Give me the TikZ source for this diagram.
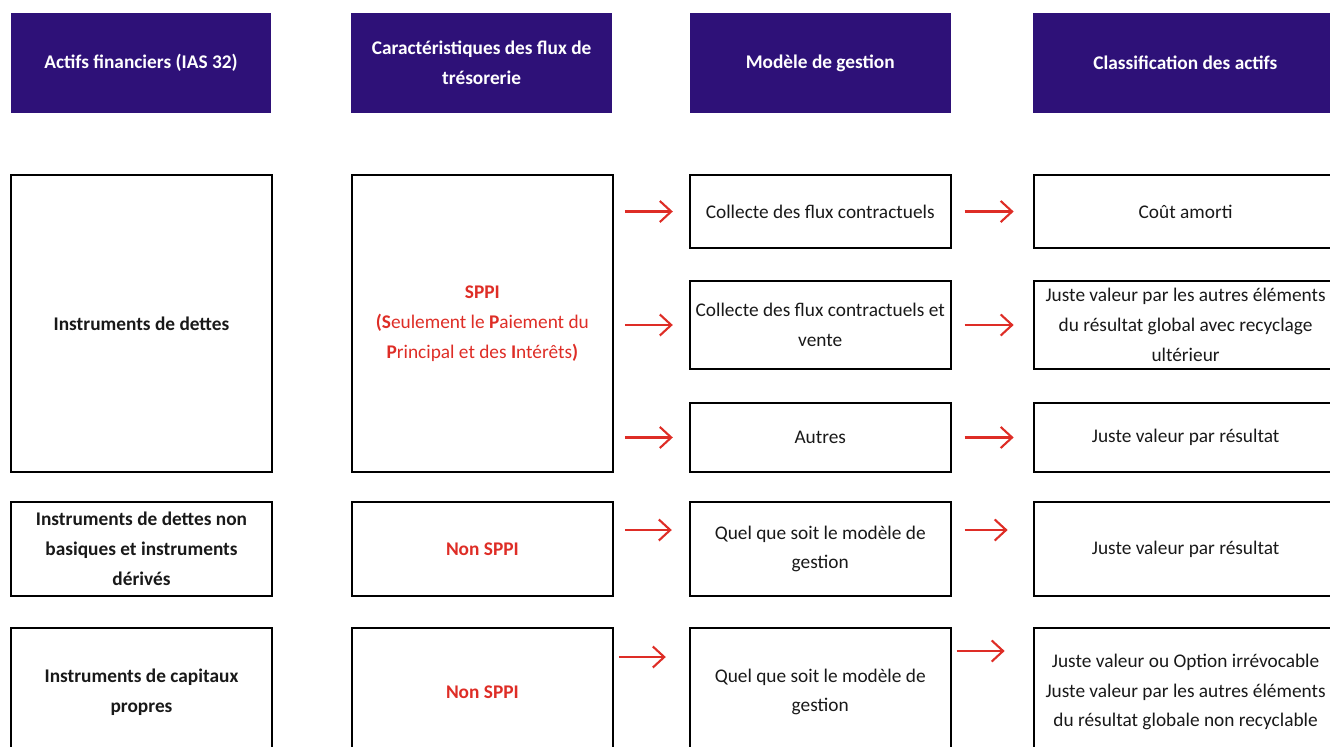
\documentclass[tikz,border=0pt]{standalone}
\usepackage{xcolor}
\usepackage{fontspec}
\setmainfont{Carlito}
\usepackage{tikz}
\usetikzlibrary{shapes,arrows,arrows.meta,positioning,fit,calc}

\definecolor{headpurple}{RGB}{46,17,120}
\definecolor{sppired}{RGB}{222,45,38}
\definecolor{boxtext}{RGB}{25,25,25}

\begin{document}
\begin{tikzpicture}[x=0.02cm, y=-0.02cm,
    head/.style={rectangle, fill=headpurple, text=white, font=\bfseries\fontsize{11}{17}\selectfont, minimum width=5.22cm, minimum height=2cm, align=center, inner sep=0pt},
    cell/.style={rectangle, draw, line width=1.1pt, minimum width=5.22cm, align=center, inner sep=0pt, text=boxtext, font=\fontsize{11}{17}\selectfont},
    asset/.style={cell, font=\bfseries\fontsize{11}{17}\selectfont},
    sppibox/.style={cell, text=sppired},
    wide/.style={cell, minimum width=6.08cm},
    flow/.style={-{Straight Barb[length=6.5pt,width=12pt]}, draw=sppired, line width=1.2pt}]
    \useasboundingbox (0,0) rectangle (1330,747);
    \clip (0,0) rectangle (1330,747);

    % en-tetes
    \node (hactifs) [head] at (141,63) {Actifs financiers (IAS 32)};
    \node (hflux) [head, right=1.58cm of hactifs] {Caractéristiques des flux de\\trésorerie};
    \node (hmodele) [head, right=1.54cm of hflux] {Modèle de gestion};
    \node (hclasse) [head, right=1.64cm of hmodele, minimum width=6.08cm] {Classification des actifs};

    % instruments de dettes
    \node (dettes) [asset, minimum height=5.94cm] at (141.5,323.5) {Instruments de dettes};
    \node (sppi) [sppibox, minimum height=5.94cm, right=1.56cm of dettes] {\textbf{SPPI}\\\textbf{(S}eulement le \textbf{P}aiement du\\\textbf{P}rincipal et des \textbf{I}ntérêts\textbf{)}};
    \node (collecte) [cell, minimum height=1.46cm, right=1.5cm of sppi.north east, anchor=north west] {Collecte des flux contractuels};
    \node (vente) [cell, minimum height=1.76cm, right=1.5cm of sppi, yshift=-0.03cm] {Collecte des flux contractuels et\\vente};
    \node (autres) [cell, minimum height=1.38cm, right=1.5cm of sppi.south east, anchor=south west] {Autres};
    \node (amorti) [wide, minimum height=1.46cm, right=1.62cm of collecte] {Coût amorti};
    \node (jvoci) [wide, minimum height=1.76cm, right=1.62cm of vente] {Juste valeur par les autres éléments\\du résultat global avec recyclage\\ultérieur};
    \node (jvr) [wide, minimum height=1.38cm, right=1.62cm of autres] {Juste valeur par résultat};

    % derives
    \node (derives) [asset, minimum height=1.88cm] at (141.5,549) {Instruments de dettes non\\basiques et instruments\\dérivés};
    \node (nonsppi) [sppibox, minimum height=1.88cm, right=1.56cm of derives] {\textbf{Non SPPI}};
    \node (quel) [cell, minimum height=1.88cm, right=1.5cm of nonsppi] {Quel que soit le modèle de\\gestion};
    \node (jvrderiv) [wide, minimum height=1.88cm, right=1.62cm of quel] {Juste valeur par résultat};

    % capitaux propres
    \node (capitaux) [asset, minimum height=2.56cm] at (141.5,692) {Instruments de capitaux\\propres};
    \node (nonsppicap) [sppibox, minimum height=2.56cm, right=1.56cm of capitaux] {\textbf{Non SPPI}};
    \node (quelcap) [cell, minimum height=2.56cm, right=1.5cm of nonsppicap] {Quel que soit le modèle de\\gestion};
    \node (option) [wide, minimum height=2.56cm, right=1.62cm of quelcap] {Juste valeur ou Option irrévocable\\Juste valeur par les autres éléments\\du résultat globale non recyclable};

    \draw [flow, shorten <=0.22cm, shorten >=0.32cm] (sppi.east |- collecte.west) -- (collecte.west);
    \draw [flow, shorten <=0.22cm, shorten >=0.32cm] (sppi.east |- vente.west) -- (vente.west);
    \draw [flow, shorten <=0.22cm, shorten >=0.32cm] (sppi.east |- autres.west) -- (autres.west);
    \draw [flow, shorten <=0.26cm, shorten >=0.38cm] (collecte) -- (amorti);
    \draw [flow, shorten <=0.26cm, shorten >=0.38cm] (vente) -- (jvoci);
    \draw [flow, shorten <=0.26cm, shorten >=0.38cm] (autres) -- (jvr);
    \draw [flow, shorten <=0.22cm, shorten >=0.34cm] ([yshift=0.38cm]nonsppi.east) -- ([yshift=0.38cm]quel.west);
    \draw [flow, shorten <=0.26cm, shorten >=0.5cm] ([yshift=0.38cm]quel.east) -- ([yshift=0.38cm]jvrderiv.west);
    \draw [flow, shorten <=0.1cm, shorten >=0.46cm] ([yshift=0.7cm]nonsppicap.east) -- ([yshift=0.7cm]quelcap.west);
    \draw [flow, shorten <=0.1cm, shorten >=0.56cm] ([yshift=0.82cm]quelcap.east) -- ([yshift=0.82cm]option.west);
\end{tikzpicture}
\end{document}
